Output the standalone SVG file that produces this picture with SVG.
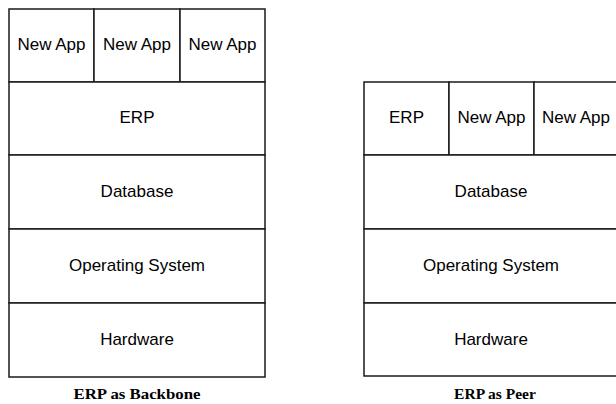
<svg xmlns="http://www.w3.org/2000/svg" width="616" height="404" viewBox="0 0 616 404">
<style>
.c{fill:#fff;stroke:#1a1a1a;stroke-width:1.5}
.t{font-family:"Liberation Sans",Arial,sans-serif;font-size:17px;fill:#000;text-anchor:middle}
.cap{font-family:"Liberation Serif","Times New Roman",serif;font-size:15.5px;font-weight:bold;fill:#000;text-anchor:middle}
</style>
<rect width="616" height="404" fill="#fff"/>
<g id="backbone">
<g id="b-app1"><rect class="c" x="9" y="9" width="85" height="73"/><text class="t" x="51.5" y="49.5">New App</text></g>
<g id="b-app2"><rect class="c" x="94" y="9" width="86" height="73"/><text class="t" x="137" y="49.5">New App</text></g>
<g id="b-app3"><rect class="c" x="180" y="9" width="85" height="73"/><text class="t" x="222.5" y="49.5">New App</text></g>
<g id="b-erp"><rect class="c" x="9" y="82" width="256" height="73"/><text class="t" x="137" y="122.5">ERP</text></g>
<g id="b-db"><rect class="c" x="9" y="155" width="256" height="74"/><text class="t" x="137" y="196.5">Database</text></g>
<g id="b-os"><rect class="c" x="9" y="229" width="256" height="74"/><text class="t" x="137" y="270.5">Operating System</text></g>
<g id="b-hw"><rect class="c" x="9" y="303" width="256" height="74"/><text class="t" x="137" y="344.5">Hardware</text></g>
<text class="cap" x="137" y="399" textLength="127" lengthAdjust="spacingAndGlyphs">ERP as Backbone</text>
</g>
<g id="peer">
<g id="p-erp"><rect class="c" x="364" y="82" width="85" height="73"/><text class="t" x="406.5" y="122.5">ERP</text></g>
<g id="p-app1"><rect class="c" x="449" y="82" width="85" height="73"/><text class="t" x="491.5" y="122.5">New App</text></g>
<g id="p-app2"><rect class="c" x="534" y="82" width="86" height="73"/><text class="t" x="576" y="122.5">New App</text></g>
<g id="p-db"><rect class="c" x="364" y="155" width="256" height="74"/><text class="t" x="491" y="196.5">Database</text></g>
<g id="p-os"><rect class="c" x="364" y="229" width="256" height="74"/><text class="t" x="491" y="270.5">Operating System</text></g>
<g id="p-hw"><rect class="c" x="364" y="303" width="256" height="73"/><text class="t" x="491" y="344.5">Hardware</text></g>
<text class="cap" x="495" y="399">ERP as Peer</text>
</g>
<g id="connectors"/>
</svg>
